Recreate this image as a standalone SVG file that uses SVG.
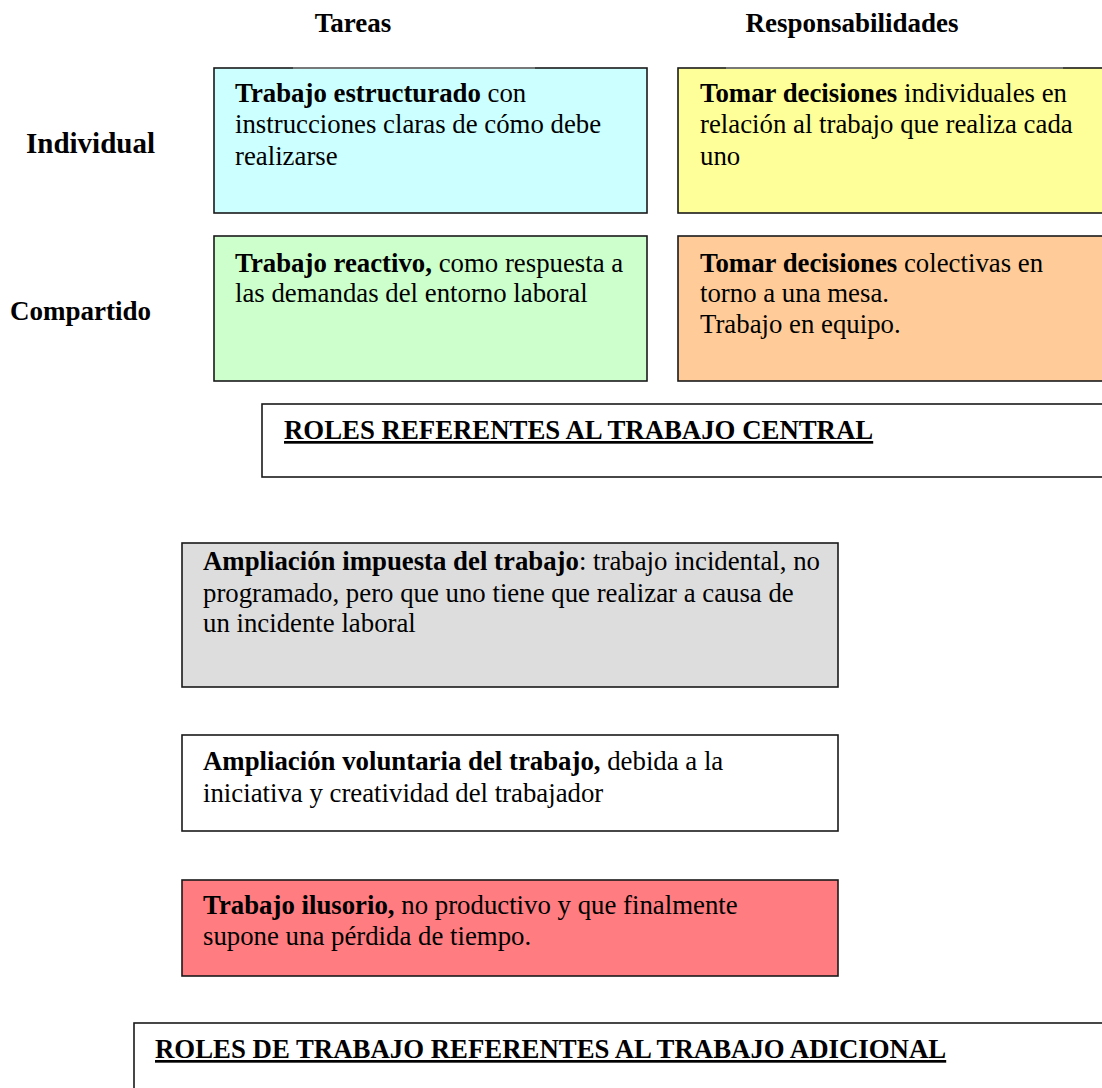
<svg xmlns="http://www.w3.org/2000/svg" width="1102" height="1088" viewBox="0 0 1102 1088">
  <style>
    text { font-family: "Liberation Serif", "Times New Roman", serif; fill: #000; }
    .hdr { font-size: 27px; font-weight: bold; }
    .body { font-size: 26.8px; }
    .b { font-weight: bold; }
    .box { stroke: #1a1a1a; stroke-width: 1.6; }
    .edge { stroke: #8a8a8a; stroke-width: 1.6; }
    .roles { font-size: 26.8px; font-weight: bold; text-decoration: underline; text-decoration-thickness: 2px; }
  </style>

  <!-- column and row headings -->
  <g id="headings">
    <text class="hdr" x="353" y="32" text-anchor="middle">Tareas</text>
    <text class="hdr" x="852" y="32" text-anchor="middle">Responsabilidades</text>
    <text x="26" y="153" font-size="29px" font-weight="bold">Individual</text>
    <text class="hdr" x="10" y="320">Compartido</text>
  </g>

  <g id="tareas-individual">
    <rect class="box" x="214" y="68" width="433" height="145" fill="#CCFFFF"/>
    <line class="edge" x1="293" y1="68" x2="535" y2="68"/>
    <text class="body"><tspan x="235" y="102"><tspan class="b">Trabajo estructurado</tspan> con</tspan><tspan x="235" y="133">instrucciones claras de cómo debe</tspan><tspan x="235" y="165">realizarse</tspan></text>
  </g>

  <g id="responsabilidades-individual">
    <rect class="box" x="678" y="68" width="440" height="145" fill="#FFFF99"/>
    <line class="edge" x1="726" y1="68" x2="1063" y2="68"/>
    <text class="body"><tspan x="700" y="102"><tspan class="b">Tomar decisiones</tspan> individuales en</tspan><tspan x="700" y="133">relación al trabajo que realiza cada</tspan><tspan x="700" y="165">uno</tspan></text>
  </g>

  <g id="tareas-compartido">
    <rect class="box" x="214" y="236" width="433" height="145" fill="#CCFFCC"/>
    <text class="body"><tspan x="235" y="272"><tspan class="b">Trabajo reactivo,</tspan> como respuesta a</tspan><tspan x="235" y="302">las demandas del entorno laboral</tspan></text>
  </g>

  <g id="responsabilidades-compartido">
    <rect class="box" x="678" y="236" width="440" height="145" fill="#FFCC99"/>
    <text class="body"><tspan x="700" y="272"><tspan class="b">Tomar decisiones</tspan> colectivas en</tspan><tspan x="700" y="302">torno a una mesa.</tspan><tspan x="700" y="333">Trabajo en equipo.</tspan></text>
  </g>

  <g id="roles-central">
    <rect class="box" x="262" y="404" width="860" height="73" fill="#FFFFFF"/>
    <text class="roles" x="284" y="439">ROLES REFERENTES AL TRABAJO CENTRAL</text>
  </g>

  <g id="ampliacion-impuesta">
    <rect class="box" x="182" y="543" width="656" height="144" fill="#DDDDDD"/>
    <text class="body"><tspan x="203" y="570"><tspan class="b">Ampliación impuesta del trabajo</tspan>: trabajo incidental, no</tspan><tspan x="203" y="602">programado, pero que uno tiene que realizar a causa de</tspan><tspan x="203" y="632">un incidente laboral</tspan></text>
  </g>

  <g id="ampliacion-voluntaria">
    <rect class="box" x="182" y="735" width="656" height="96" fill="#FFFFFF"/>
    <text class="body"><tspan x="203" y="770"><tspan class="b">Ampliación voluntaria del trabajo,</tspan> debida a la</tspan><tspan x="203" y="802">iniciativa y creatividad del trabajador</tspan></text>
  </g>

  <g id="trabajo-ilusorio">
    <rect class="box" x="182" y="880" width="656" height="96" fill="#FF7C80"/>
    <text class="body"><tspan x="203" y="914"><tspan class="b">Trabajo ilusorio,</tspan> no productivo y que finalmente</tspan><tspan x="203" y="945">supone una pérdida de tiempo.</tspan></text>
  </g>

  <g id="roles-adicional">
    <rect class="box" x="134" y="1023" width="990" height="90" fill="#FFFFFF"/>
    <text class="roles" x="155" y="1058">ROLES DE TRABAJO REFERENTES AL TRABAJO ADICIONAL</text>
  </g>
</svg>
